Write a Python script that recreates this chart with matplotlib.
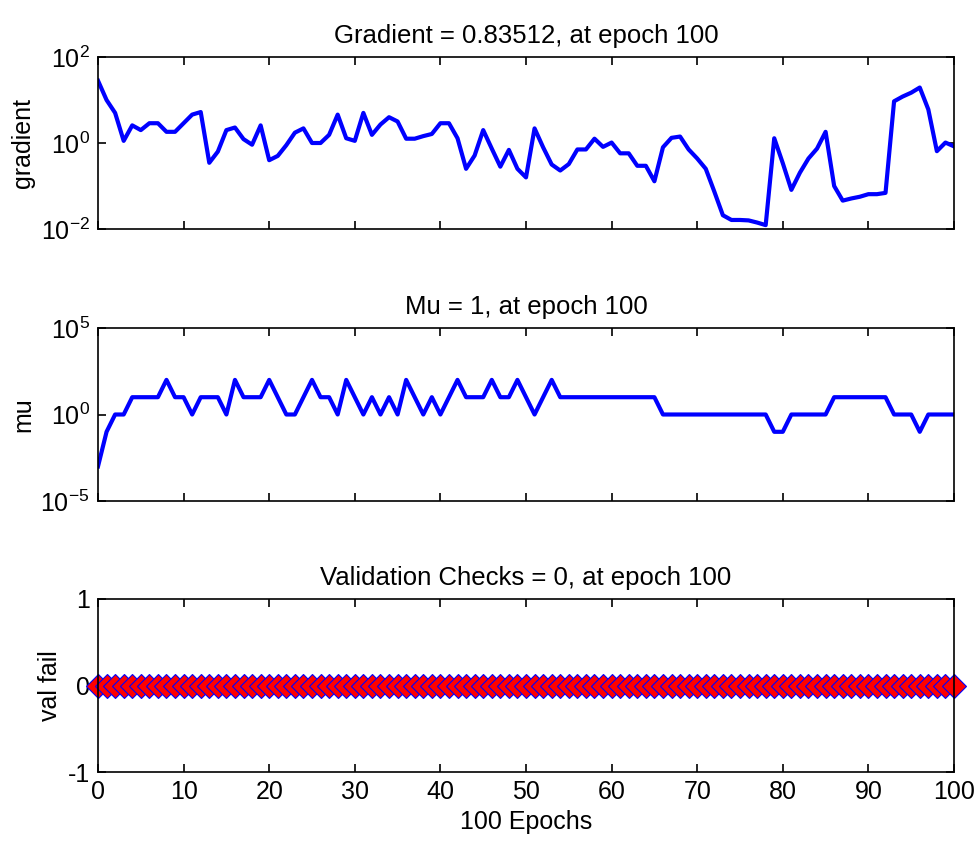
import numpy as np
import matplotlib
matplotlib.use('Agg')
import matplotlib.pyplot as plt

plt.rcParams['font.family'] = ['Liberation Sans', 'DejaVu Sans']
plt.rcParams['mathtext.fontset'] = 'custom'
plt.rcParams['mathtext.rm'] = 'Liberation Sans'
plt.rcParams['mathtext.it'] = 'Liberation Sans:italic'
plt.rcParams['axes.unicode_minus'] = False

# epochs 0..100
epochs = np.arange(0, 101)

# log10 of the gradient
grad_log = [1.45, 1.0, 0.70, 0.05, 0.41, 0.30, 0.46, 0.46, 0.26, 0.26,
            0.46, 0.66, 0.72, -0.46, -0.20, 0.30, 0.36, 0.09, -0.04, 0.41,
            -0.40, -0.30, -0.05, 0.24, 0.34, 0.0, 0.0, 0.19, 0.66, 0.11,
            0.05, 0.70, 0.19, 0.43, 0.60, 0.50, 0.10, 0.10, 0.16, 0.21,
            0.46, 0.46, 0.11, -0.60, -0.29, 0.30, -0.13, -0.55, -0.16, -0.60,
            -0.80, 0.34, -0.10, -0.50, -0.64, -0.49, -0.15, -0.15, 0.10, -0.09,
            0.01, -0.24, -0.24, -0.53, -0.53, -0.89, -0.10, 0.12, 0.15, -0.15,
            -0.36, -0.60, -1.13, -1.68, -1.79, -1.79, -1.80, -1.85, -1.91, 0.11,
            -0.47, -1.09, -0.69, -0.36, -0.13, 0.26, -1.0, -1.34, -1.29, -1.25,
            -1.19, -1.19, -1.16, 0.97, 1.08, 1.17, 1.29, 0.78, -0.19, 0.01,
            -0.078]

# log10 of mu
mu_log = [-3, -1, 0, 0, 1, 1, 1, 1, 2, 1,
          1, 0, 1, 1, 1, 0, 2, 1, 1, 1,
          2, 1, 0, 0, 1, 2, 1, 1, 0, 2,
          1, 0, 1, 0, 1, 0, 2, 1, 0, 1,
          0, 1, 2, 1, 1, 1, 2, 1, 1, 2,
          1, 0, 1, 2, 1, 1, 1, 1, 1, 1,
          1, 1, 1, 1, 1, 1, 0, 0, 0, 0,
          0, 0, 0, 0, 0, 0, 0, 0, 0, -1,
          -1, 0, 0, 0, 0, 0, 1, 1, 1, 1,
          1, 1, 1, 0, 0, 0, -1, 0, 0, 0,
          0]

val_fail = [0] * 101

gradient = 10.0 ** np.array(grad_log)
mu = 10.0 ** np.array(mu_log)

W, H = 978, 848
fig = plt.figure(figsize=(W / 100, H / 100), dpi=100)

left = 98 / W
width = (954 - 98) / W
boxes = [(57, 229), (328, 501), (599, 772)]
axes = []
for top, bot in boxes:
    ax = fig.add_axes([left, 1 - bot / H, width, (bot - top) / H])
    axes.append(ax)


def style(ax):
    ax.set_xlim(0, 100)
    ax.set_xticks(range(0, 101, 10))
    ax.tick_params(direction='in', length=6, width=1.2, top=True, right=True,
                   labelsize=18, pad=6)
    ax.tick_params(which='minor', left=False, right=False, top=False, bottom=False)
    for s in ax.spines.values():
        s.set_linewidth(1.2)


# gradient
ax1 = axes[0]
ax1.semilogy(epochs, gradient, color='#0000ff', lw=3.0)
ax1.set_ylim(1e-2, 1e2)
ax1.set_yticks([1e-2, 1e0, 1e2])
style(ax1)
ax1.set_xticklabels([])
ax1.set_ylabel('gradient', fontsize=18)
ax1.set_title('Gradient = 0.83512, at epoch 100', fontsize=18.5, pad=10)

# mu
ax2 = axes[1]
ax2.semilogy(epochs, mu, color='#0000ff', lw=3.0)
ax2.set_ylim(1e-5, 1e5)
ax2.set_yticks([1e-5, 1e0, 1e5])
style(ax2)
ax2.set_xticklabels([])
ax2.set_ylabel('mu', fontsize=18)
ax2.set_title('Mu = 1, at epoch 100', fontsize=18.5, pad=10)

# validation checks
ax3 = axes[2]
ax3.plot(epochs, val_fail, color='#0000ff', lw=3.0, marker='D', ms=12,
         markerfacecolor='red', markeredgecolor='#0000ff', markeredgewidth=0.8,
         clip_on=False)
ax3.set_ylim(-1, 1)
ax3.set_yticks([-1, 0, 1])
style(ax3)
ax3.set_ylabel('val fail', fontsize=18)
ax3.set_xlabel('100 Epochs', fontsize=18)
ax3.set_title('Validation Checks = 0, at epoch 100', fontsize=18.5, pad=10)

fig.savefig('out.png', dpi=100)
